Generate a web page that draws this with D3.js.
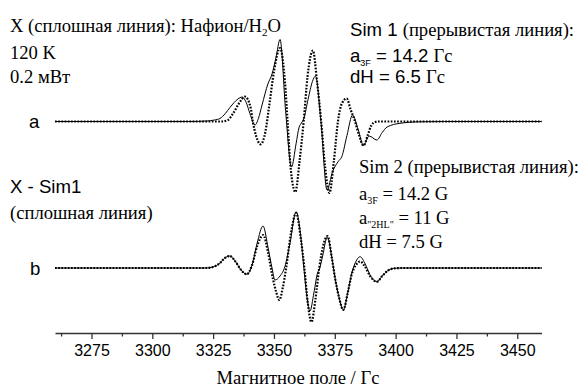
<!DOCTYPE html>
<html><head><meta charset="utf-8">
<script src="https://cdn.jsdelivr.net/npm/d3@7"></script>
<style>body{margin:0;background:#fff}</style>
</head><body>
<svg id="chart" width="582" height="390"></svg>
<script>
// ---- data (field in G, intensity in arbitrary units) ----
const expA = [[3260,0],[3315,0],[3322.5,0.5],[3325.5,1.5],[3327.8,3],[3330,8],[3331.9,14],[3335.2,22.5],[3336.9,24.5],[3338.6,19],[3340.1,8],[3342.2,-3.5],[3343.6,3],[3345.1,16.5],[3347.5,37.5],[3349.2,47.5],[3350.8,63.5],[3352.5,82],[3354.8,10],[3357.2,-45.5],[3359.1,-22],[3360.3,-6],[3361.3,-1.5],[3362.3,3],[3364.0,22],[3365.8,40],[3367.1,45.5],[3369.3,0],[3371.8,-68.5],[3374.1,-50],[3376.4,-40],[3377.9,-35],[3380.0,-14],[3382.3,6.5],[3384.6,-8],[3386.8,-24],[3389.1,-14.5],[3392.3,-18.5],[3394.5,-11],[3396.5,-5.5],[3401.8,-1.8],[3410,-0.3],[3420,0],[3460,0]];
const simA = [[3260,0],[3328.5,0],[3331.1,1.5],[3333.2,8],[3335.6,18],[3338.1,24.8],[3340.3,15],[3341.3,0],[3342.6,-14],[3344.5,-22.8],[3346.5,-10],[3348.0,15],[3350.0,50],[3352.5,73.5],[3354.5,40],[3355.6,0],[3356.8,-45],[3358.8,-70.5],[3360.5,-40],[3362.2,0],[3363.8,45],[3366.0,71],[3367.7,40],[3369.4,0],[3371.0,-45],[3372.8,-71.5],[3374.6,-40],[3376.3,0],[3377.9,18],[3379.9,23],[3381.5,12],[3383.3,0],[3385.0,-14],[3386.8,-24],[3388.5,-14],[3390.0,-4],[3391.6,-0.5],[3393,0],[3460,0]];
const expB = [[3260,0],[3322,0],[3324.9,1],[3327.8,5],[3329.8,10],[3331.9,12],[3334.0,7],[3336.5,-2],[3338.8,-6.3],[3341.0,3],[3343.1,25],[3345.5,42],[3347.6,20],[3349.2,0],[3350.4,-12],[3352.5,-8],[3354.5,1.5],[3356.6,25],[3359.1,56.3],[3361.1,30],[3362.3,0],[3363.5,-28],[3364.8,-43],[3366.4,-25],[3367.9,-5],[3368.7,-1],[3370.0,12],[3371.9,31],[3373.8,10],[3375.1,-10],[3376.8,-30],[3378.5,-42],[3380.3,-25],[3382.0,-5],[3384.0,8],[3385.4,11.3],[3387.5,4],[3389.5,-7],[3392.3,-13.7],[3394.5,-8],[3396.6,-3],[3399.0,-0.5],[3402,0],[3460,0]];
const simB = [[3260,0],[3322,0],[3324.9,1],[3327.8,5],[3329.8,10],[3331.9,12],[3334.0,7],[3336.5,-2],[3338.8,-6.3],[3341.0,3],[3343.1,22],[3345.6,33],[3347.6,15],[3349.5,-10],[3350.9,-24],[3352.2,-32],[3353.6,-20],[3355.0,0],[3357.0,35],[3359.1,55],[3361.1,28],[3362.5,0],[3363.9,-35],[3365.4,-54],[3367.0,-32],[3368.6,0],[3370.2,22],[3372.0,32],[3373.8,10],[3375.1,-10],[3376.8,-30],[3378.5,-42],[3380.3,-25],[3382.0,-6],[3384.0,4],[3385.4,6.5],[3387.5,1],[3389.5,-8],[3392.3,-13.7],[3394.5,-8],[3396.6,-3],[3399.0,-0.5],[3402,0],[3460,0]];
const majorTicks = [3275,3300,3325,3350,3375,3400,3425,3450];
const minorTicks = [3262.5,3287.5,3312.5,3337.5,3362.5,3387.5,3412.5,3437.5];
const xDomain = [3260,3460];
const axisTitle = "Магнитное поле / Гс";

// ---- drawing ----
const svg = d3.select("#chart");
const SERIF = "'Liberation Serif','Times New Roman',serif";
const SANS = "'Liberation Sans',Arial,sans-serif";
const FS = 18.6;
const x = d3.scaleLinear().domain(xDomain).range([55, 541.6]);
const yA = d3.scaleLinear().domain([-100,100]).range([221.5, 21.5]);
const yB = d3.scaleLinear().domain([-100,100]).range([368, 168]);

function draw(data, y, dotted){
  const line = d3.line().x(d=>x(d[0])).y(d=>y(d[1])).curve(d3.curveMonotoneX);
  const p = svg.append("path").datum(data).attr("d", line)
    .attr("fill","none").attr("stroke","#000");
  if(dotted){ p.attr("stroke-width",2.2).attr("stroke-dasharray","1.7,1.5").attr("stroke-linecap","butt"); }
  else { p.attr("stroke-width",1); }
}
draw(simA, yA, true);
draw(expA, yA, false);
draw(simB, yB, true);
draw(expB, yB, false);

// axis
const axisY = 333;
const gMaj = svg.append("g").attr("transform",`translate(0,${axisY})`)
  .call(d3.axisBottom(x).tickValues(majorTicks).tickSize(6).tickSizeOuter(0).tickPadding(6).tickFormat(d3.format("d")));
const gMin = svg.append("g").attr("transform",`translate(0,${axisY})`)
  .call(d3.axisBottom(x).tickValues(minorTicks).tickSize(3.5).tickSizeOuter(0).tickFormat(""));
[gMaj,gMin].forEach(g=>{
  g.select(".domain").attr("stroke","#333").attr("stroke-width",1.6);
  g.selectAll(".tick line").attr("stroke","#333").attr("stroke-width",1.3);
  g.selectAll("text").attr("font-family",SANS).attr("font-size",16).attr("fill","#000");
});
gMin.select(".domain").remove();

svg.append("text").attr("x",298).attr("y",384).attr("text-anchor","middle")
  .attr("font-family",SERIF).attr("font-size",FS).text(axisTitle);

// text helpers
function txt(xp, yp, parts){
  const t = svg.append("text").attr("x",xp).attr("y",yp).attr("fill","#000");
  parts.forEach(p=>{
    const s = t.append("tspan").text(p.t).attr("font-family", p.f==="s"?SANS:SERIF)
      .attr("font-size", p.sz||FS);
    if(p.dy) s.attr("dy", p.dy);
  });
  return t;
}
txt(10,32,[{t:"X (сплошная линия): Нафион/H"},{t:"2",sz:11,dy:4},{t:"O",dy:-4}]);
txt(10,59,[{t:"120 K"}]);
txt(10,83,[{t:"0.2 мВт"}]);

txt(350,36,[{t:"Sim 1 ",f:"s"},{t:"(прерывистая линия):"}]);
txt(350,61.5,[{t:"a",f:"s"},{t:"3F",f:"s",sz:9,dy:4},{t:" = 14.2 ",f:"s",dy:-4},{t:"Гс"}]);
txt(350,83,[{t:"dH = 6.5 ",f:"s"},{t:"Гс"}]);

txt(359,173,[{t:"Sim 2 (прерывистая линия):"}]);
txt(359,200,[{t:"a"},{t:"3F",sz:10,dy:4},{t:" = 14.2 G",dy:-4}]);
txt(359,224,[{t:"a"},{t:"\"2HL\"",sz:10,dy:4},{t:" = 11 G",dy:-4}]);
txt(359,248,[{t:"dH = 7.5 G"}]);

txt(10,193,[{t:"X - Sim1",f:"s"}]);
txt(10,219,[{t:"(сплошная линия)"}]);

txt(29,128,[{t:"a",f:"s"}]);
txt(30,274.5,[{t:"b",f:"s"}]);
</script>
</body></html>
